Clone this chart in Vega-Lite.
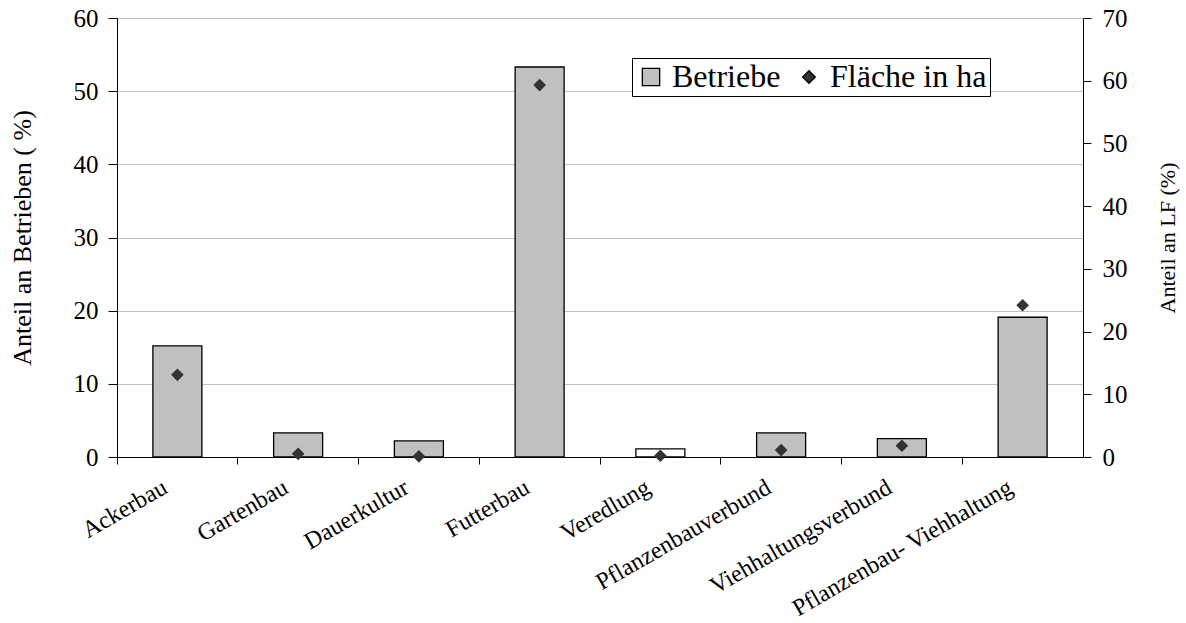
{
  "$schema": "https://vega.github.io/schema/vega-lite/v6.json",
  "width": 966,
  "height": 439,
  "autosize": "none",
  "padding": {"left": 117, "top": 18, "right": 103, "bottom": 166},
  "background": "white",
  "config": {
    "font": "Liberation Serif",
    "view": {"stroke": null},
    "axis": {"labelFont": "Liberation Serif", "titleFont": "Liberation Serif", "labelColor": "black", "titleColor": "black", "domainColor": "black", "tickColor": "black", "titleFontWeight": "normal"}
  },
  "data": {
    "values": [
      {"Kategorie": "Ackerbau", "Betriebe": 15.2, "Flaeche": 13.1},
      {"Kategorie": "Gartenbau", "Betriebe": 3.3, "Flaeche": 0.5},
      {"Kategorie": "Dauerkultur", "Betriebe": 2.2, "Flaeche": 0.1},
      {"Kategorie": "Futterbau", "Betriebe": 53.3, "Flaeche": 59.3},
      {"Kategorie": "Veredlung", "Betriebe": 1.1, "Flaeche": 0.2},
      {"Kategorie": "Pflanzenbauverbund", "Betriebe": 3.3, "Flaeche": 1.1},
      {"Kategorie": "Viehhaltungsverbund", "Betriebe": 2.5, "Flaeche": 1.8},
      {"Kategorie": "Pflanzenbau- Viehhaltung", "Betriebe": 19.1, "Flaeche": 24.2}
    ]
  },
  "encoding": {
    "x": {
      "field": "Kategorie",
      "type": "nominal",
      "sort": null,
      "scale": {"paddingInner": 0, "paddingOuter": 0},
      "axis": {
        "title": null,
        "bandPosition": 0,
        "labelOffset": -18,
        "labelAngle": -30,
        "labelAlign": "right",
        "labelBaseline": "top",
        "labelFontSize": 24,
        "labelPadding": 11,
        "tickSize": 7,
        "domainWidth": 1.2,
        "labelOverlap": false,
        "labelLimit": 400
      }
    }
  },
  "layer": [
    {
      "mark": {"type": "bar", "size": 49, "stroke": "black", "strokeWidth": 1.3},
      "encoding": {
        "y": {
          "field": "Betriebe",
          "type": "quantitative",
          "scale": {"domain": [0, 60], "nice": false},
          "axis": {
            "title": "Anteil an Betrieben ( %)",
            "titleFontSize": 26,
            "titlePadding": 38,
            "values": [0, 10, 20, 30, 40, 50, 60],
            "labelFontSize": 25,
            "tickSize": 9,
            "labelPadding": 10,
            "grid": true,
            "gridColor": "#c0c0c0",
            "gridWidth": 1
          }
        },
        "fill": {
          "condition": {"test": "datum.Kategorie === 'Veredlung'", "value": "white"},
          "datum": "Betriebe",
          "type": "nominal",
          "scale": {"domain": ["Betriebe", "Fläche in ha"], "range": ["#c0c0c0", "#333333"]},
          "legend": {
            "title": null,
            "orient": "none",
            "legendX": 515,
            "legendY": 40,
            "direction": "horizontal",
            "labelFont": "Liberation Serif",
            "labelFontSize": 32,
            "labelLimit": 400,
            "labelColor": "black",
            "strokeColor": "black",
            "fillColor": "white",
            "padding": 3,
            "columnPadding": 12,
            "symbolStrokeColor": "black",
            "symbolStrokeWidth": 1.3,
            "labelOffset": 5
          }
        }
      }
    },
    {
      "mark": {"type": "point", "shape": "diamond", "filled": true, "opacity": 1},
      "encoding": {
        "y": {
          "field": "Flaeche",
          "type": "quantitative",
          "scale": {"domain": [0, 70], "nice": false},
          "axis": {
            "title": "Anteil an LF (%)",
            "orient": "right",
            "titleFontSize": 22,
            "titleAngle": 270,
            "titleBaseline": "top",
            "titlePadding": 30,
            "values": [0, 10, 20, 30, 40, 50, 60, 70],
            "labelFontSize": 25,
            "tickSize": 8,
            "labelPadding": 11,
            "grid": false
          }
        },
        "fill": {"datum": "Fläche in ha", "type": "nominal"},
        "shape": {
          "datum": "Fläche in ha",
          "type": "nominal",
          "scale": {"domain": ["Betriebe", "Fläche in ha"], "range": ["square", "diamond"]}
        },
        "size": {
          "datum": "Fläche in ha",
          "type": "nominal",
          "scale": {"domain": ["Betriebe", "Fläche in ha"], "range": [300, 160]}
        }
      }
    }
  ],
  "resolve": {"scale": {"y": "independent"}}
}
